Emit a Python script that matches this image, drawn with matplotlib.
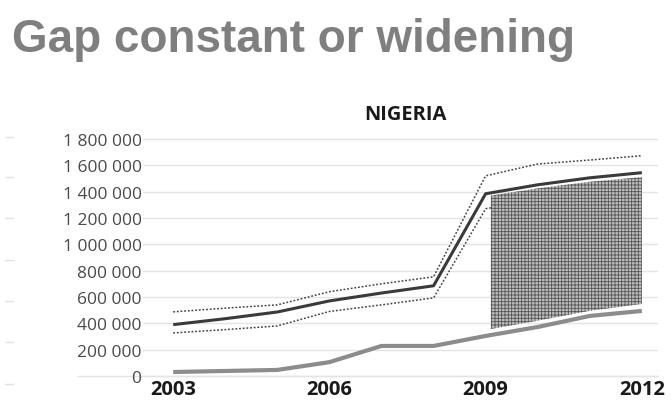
import matplotlib
matplotlib.use("Agg")
import matplotlib.pyplot as plt
from matplotlib.lines import Line2D

# Data
years = [2003, 2004, 2005, 2006, 2007, 2008, 2009, 2010, 2011, 2012]
solid_line = [390000, 435000, 486000, 570000, 630000, 685000, 1384000, 1452000, 1505000, 1544000]
upper_dotted = [487000, 515000, 540000, 640000, 700000, 753000, 1520000, 1610000, 1640000, 1673000]
lower_dotted = [327000, 352000, 380000, 490000, 540000, 593000, 1270000, 1340000, 1380000, 1410000]
gray_line = [30000, 38000, 46000, 105000, 228000, 228000, 304000, 372000, 456000, 494000]

gap_years = [2009.1, 2010, 2011, 2012]
gap_top = [1370000, 1425000, 1475000, 1510000]
gap_bottom = [357000, 420000, 495000, 547000]

y_ticks = [0, 200000, 400000, 600000, 800000, 1000000, 1200000, 1400000, 1600000, 1800000]
y_labels = ['0', '200 000', '400 000', '600 000', '800 000', '1 000 000',
            '1 200 000', '1 400 000', '1 600 000', '1 800 000']
x_ticks = [2003, 2006, 2009, 2012]

plt.rcParams['hatch.linewidth'] = 0.6

fig = plt.figure(figsize=(6.72, 4.02), dpi=100)
ax = fig.add_axes([143 / 672, 0.0557, 515 / 672, 0.6125])

# Lines
ax.plot(years, upper_dotted, color='#444444', linewidth=1.1, linestyle=(0, (1.2, 1.2)), zorder=3)
ax.plot(years, lower_dotted, color='#444444', linewidth=1.1, linestyle=(0, (1.2, 1.2)), zorder=3)
ax.fill_between(gap_years, gap_bottom, gap_top, facecolor='#bdbdbd', edgecolor='#555555',
                hatch='+++++', linewidth=0, zorder=4)
ax.plot(years, gray_line, color='#8c8c8c', linewidth=3, solid_capstyle='butt', zorder=5)
ax.plot(years, solid_line, color='#3a3a3a', linewidth=2.2, solid_capstyle='butt', zorder=6)

# Axes
ax.set_xlim(2002.42, 2012.31)
ax.set_ylim(-20000, 1850000)
ax.set_yticks(y_ticks)
ax.set_yticklabels(y_labels, family='Open Sans', fontsize=12.5, color='#4a4a4a')
ax.set_xticks(x_ticks)
ax.set_xticklabels([str(x) for x in x_ticks], family='Open Sans', fontweight='bold',
                   fontsize=14.5, color='#1a1a1a')
ax.tick_params(axis='both', length=0)
ax.tick_params(axis='y', pad=1)
ax.tick_params(axis='x', pad=0.5)
for s in ax.spines.values():
    s.set_visible(False)
ax.grid(axis='y', color='#e4e4e4', linewidth=1)
ax.set_axisbelow(True)
ax.axhline(0, xmin=-0.126, xmax=1, color='#e4e4e4', linewidth=1, clip_on=False, zorder=0)

# Titles
fig.text(12 / 672, 1 - 52 / 402, 'Gap constant or widening', family='Liberation Sans',
         fontweight='bold', fontsize=33, color='#7f7f7f', va='baseline', ha='left')
fig.text(405 / 672, 1 - 120 / 402, 'NIGERIA', family='Open Sans', fontweight='bold',
         fontsize=14.5, color='#1a1a1a', va='baseline', ha='center')

# faint marks on the left edge
for yp in [138, 178, 219, 261, 302, 343, 385]:
    fig.add_artist(Line2D([5 / 672, 13 / 672], [1 - yp / 402] * 2, color='#e2e2e2', linewidth=1))

fig.savefig('out.png', dpi=100)
